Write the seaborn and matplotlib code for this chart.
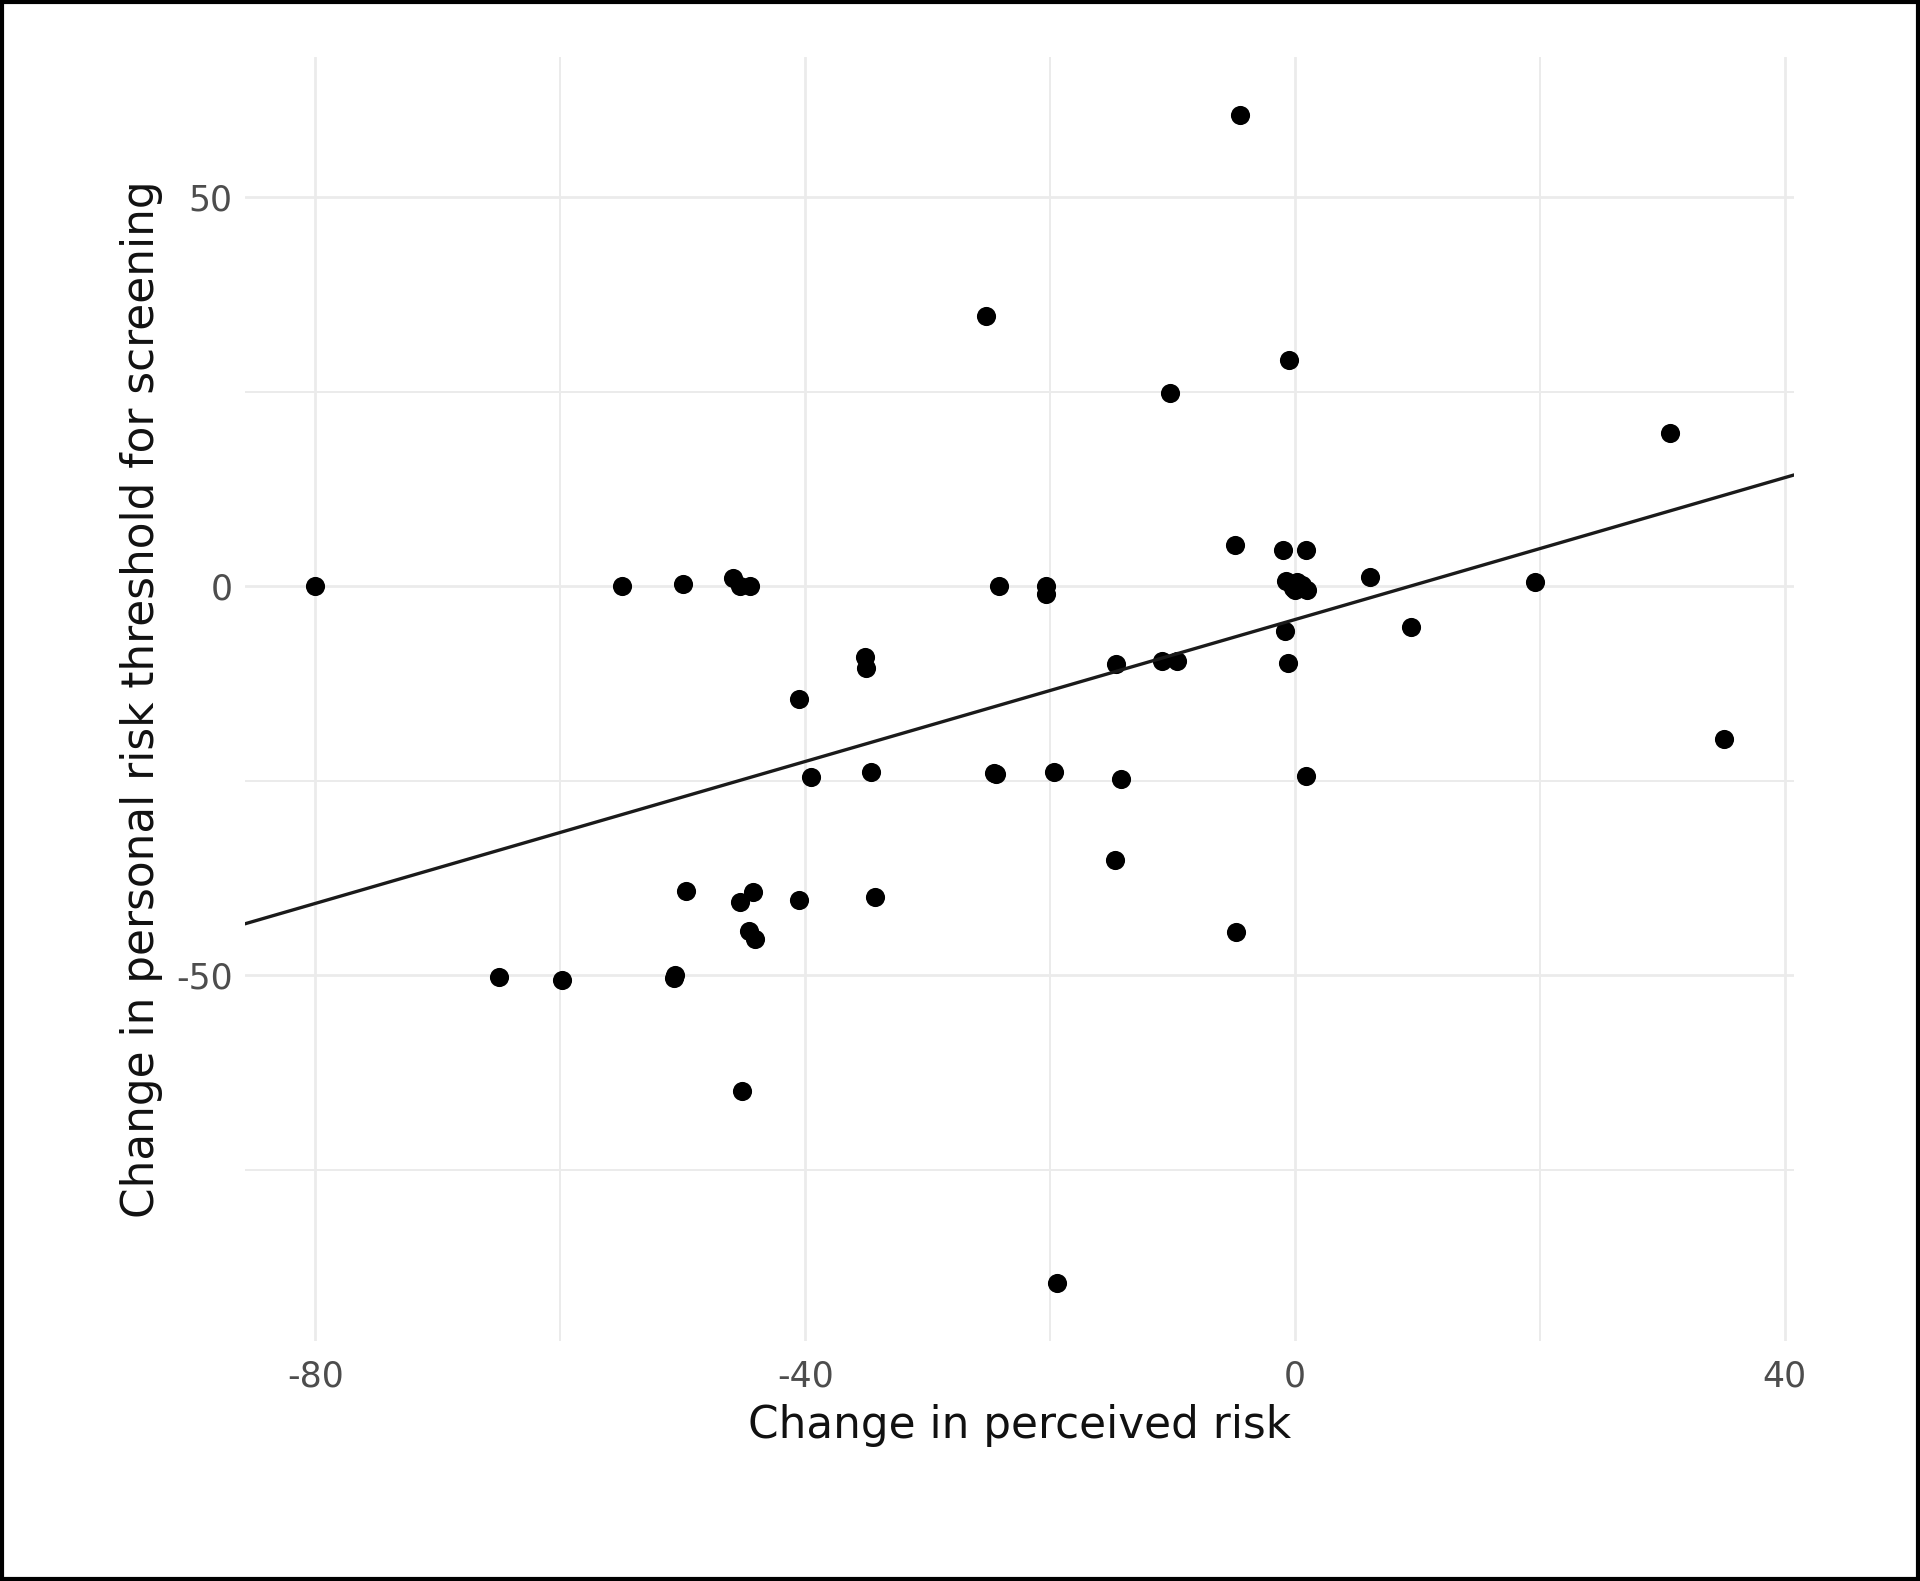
import matplotlib
matplotlib.use("Agg")
import matplotlib.pyplot as plt
import seaborn as sns
import pandas as pd
from matplotlib.patches import Rectangle

# valores
cambio_riesgo = [
    -4.5, -25.2, -0.5, -10.2, 30.6, -4.9, -1.0, 0.9,
    -80.0, -55.0, -50.0, -45.9, -45.3, -44.5, -24.2, -20.3, -20.3, 6.1, 19.6,
    -0.7, -0.2, 0.2, 0.6, 1.0, 0.0,
    9.5, -0.8, -0.6, -35.1, -35.0, -14.6, -10.9, -9.6, -40.5, 35.0,
    -39.5, -34.6, -24.6, -24.4, -19.7, -14.2, 0.9, -14.7,
    -49.7, -44.3, -45.3, -40.5, -34.3, -44.6, -44.1, -4.8,
    -65.0, -59.9, -50.7, -50.6, -45.2, -19.4,
]
cambio_umbral = [
    60.5, 34.7, 29.1, 24.8, 19.7, 5.3, 4.6, 4.6,
    0.0, 0.0, 0.3, 1.0, 0.0, 0.0, 0.0, 0.0, -1.0, 1.2, 0.5,
    0.6, -0.2, 0.5, 0.2, -0.5, -0.5,
    -5.3, -5.7, -9.9, -9.1, -10.5, -10.0, -9.6, -9.6, -14.5, -19.7,
    -24.5, -23.9, -24.0, -24.2, -23.9, -24.8, -24.4, -35.2,
    -39.2, -39.3, -40.6, -40.3, -39.9, -44.3, -45.4, -44.5,
    -50.2, -50.6, -50.3, -50.0, -64.9, -89.5,
]
ticks_x = [-80, -40, 0, 40]
ticks_y = [-50, 0, 50]
minor_x = [-60, -20, 20]
minor_y = [-75, -25, 25]

df = pd.DataFrame({"riesgo": cambio_riesgo, "umbral": cambio_umbral})

sns.set_style("white")
plt.rcParams["font.family"] = ["DejaVu Sans"]
plt.rcParams["axes.unicode_minus"] = False

fig = plt.figure(figsize=(19.2, 15.81), dpi=100)
ax = fig.add_axes([245 / 1920, 1 - 1341 / 1581, (1794 - 245) / 1920, (1341 - 57) / 1581])

# limites con la expansion del 5% como en ggplot
x0, x1 = min(cambio_riesgo), max(cambio_riesgo)
y0, y1 = min(cambio_umbral), max(cambio_umbral)
dx, dy = (x1 - x0) * 0.05, (y1 - y0) * 0.05
ax.set_xlim(x0 - dx, x1 + dx)
ax.set_ylim(y0 - dy, y1 + dy)

# rejilla
ax.set_xticks(ticks_x)
ax.set_yticks(ticks_y)
ax.set_xticks(minor_x, minor=True)
ax.set_yticks(minor_y, minor=True)
ax.grid(which="major", color="#ebebeb", linewidth=2.0)
ax.grid(which="minor", color="#ebebeb", linewidth=1.4)
ax.set_axisbelow(True)

sns.scatterplot(data=df, x="riesgo", y="umbral", ax=ax, color="black",
                s=190, linewidth=0, zorder=3)
sns.regplot(data=df, x="riesgo", y="umbral", ax=ax, scatter=False, ci=None,
            truncate=False, line_kws={"color": "#1a1a1a", "linewidth": 2.4, "zorder": 4})

for lado in ax.spines.values():
    lado.set_visible(False)
ax.tick_params(which="both", length=0, labelsize=25, labelcolor="#4d4d4d")
ax.tick_params(axis="x", pad=13)
ax.tick_params(axis="y", pad=9)
ax.set_xlabel("Change in perceived risk", fontsize=31.5, color="#111111", labelpad=8)
ax.set_ylabel("Change in personal risk threshold for screening", fontsize=31.5,
              color="#111111", labelpad=9)

# marco negro alrededor de la figura
fig.patches.append(Rectangle((0.001, 0.001), 0.998, 0.998, transform=fig.transFigure,
                             fill=False, edgecolor="black", linewidth=3))

fig.savefig("out.png", dpi=100)
